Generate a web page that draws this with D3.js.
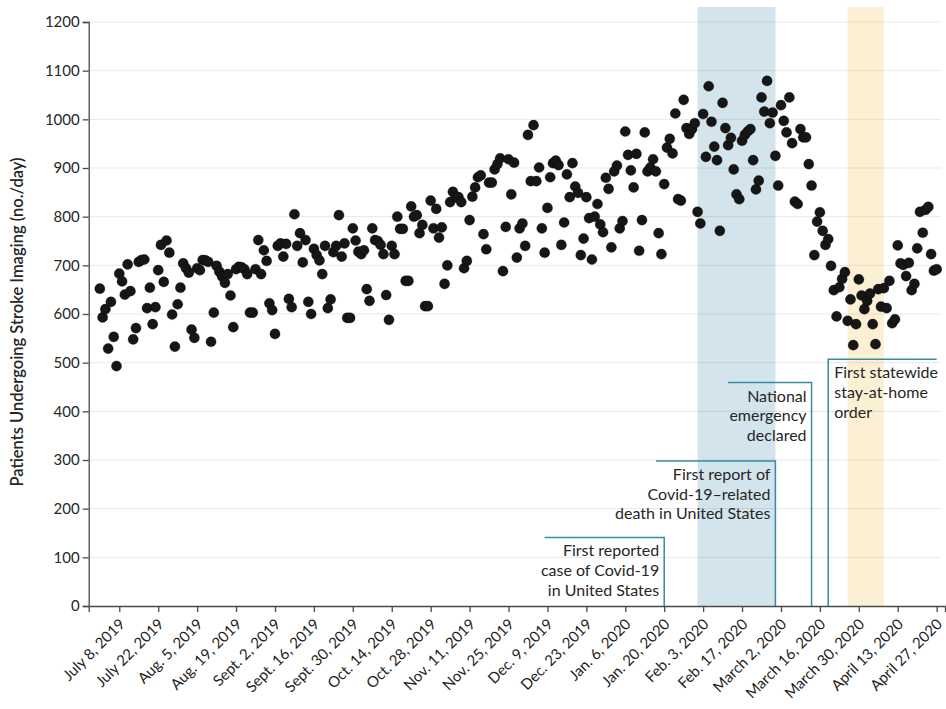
<!DOCTYPE html>
<html><head><meta charset="utf-8">
<script src="https://cdn.jsdelivr.net/npm/d3@7"></script>
<style>
html,body{margin:0;padding:0;background:#fff;}
svg{display:block;font-family:Lato,"Open Sans",sans-serif;}
</style></head><body>
<svg id="chart" width="946" height="709"></svg>
<script>
// ---------- DATA ----------
const startDate = "2019-07-01"; // first daily observation (one value per day)
const values = [
652,593,610,529,625,553,493,
683,667,640,702,647,548,571,
707,711,712,612,654,579,614,
690,742,666,751,726,599,533,
620,654,704,694,685,568,551,
694,690,711,710,707,543,603,
699,687,677,664,682,638,573,
692,697,696,692,682,603,603,
692,752,682,731,709,622,608,
559,740,745,718,744,631,614,
805,740,766,706,752,625,600,
734,721,710,682,740,612,630,
727,740,803,718,745,592,592,
776,751,728,723,731,651,627,
776,752,750,742,723,639,588,
740,723,800,775,775,668,668,
821,800,803,766,783,616,616,
833,776,816,757,778,662,700,
830,851,840,840,830,694,709,
793,841,860,881,885,764,733,
870,870,897,908,920,688,779,
918,846,911,716,776,786,740,
968,873,988,873,901,776,726,
818,881,910,915,906,742,788,
887,840,910,862,849,721,755,
840,797,712,800,826,784,768,
880,857,737,893,905,776,791,
975,927,895,860,929,730,793,
973,893,901,918,893,766,723,
867,942,960,930,1012,836,833,
1040,982,970,980,992,810,786,
1011,923,1068,995,944,916,771,
1034,982,947,962,897,846,836,
956,968,975,980,916,856,874,
1045,1016,1079,992,1014,925,864,
1029,997,973,1045,951,831,826,
980,963,963,908,864,721,790,
809,771,742,754,699,649,595,
655,672,686,586,630,536,579,
671,638,610,627,642,579,538,
651,615,653,612,668,581,589,
741,704,701,678,705,649,662,
735,810,767,814,820,723,689,692
];
const tickDates = ["2019-07-08","2019-07-22","2019-08-05","2019-08-19","2019-09-02","2019-09-16","2019-09-30","2019-10-14","2019-10-28","2019-11-11","2019-11-25","2019-12-09","2019-12-23","2020-01-06","2020-01-20","2020-02-03","2020-02-17","2020-03-02","2020-03-16","2020-03-30","2020-04-13","2020-04-27"];
const tickLabels = ["July 8, 2019","July 22, 2019","Aug. 5, 2019","Aug. 19, 2019","Sept. 2, 2019","Sept. 16, 2019","Sept. 30, 2019","Oct. 14, 2019","Oct. 28, 2019","Nov. 11, 2019","Nov. 25, 2019","Dec. 9, 2019","Dec. 23, 2019","Jan. 6, 2020","Jan. 20, 2020","Feb. 3, 2020","Feb. 17, 2020","March 2, 2020","March 16, 2020","March 30, 2020","April 13, 2020","April 27, 2020"];
const yTicks = [0,100,200,300,400,500,600,700,800,900,1000,1100,1200];
const yTitle = "Patients Undergoing Stroke Imaging (no./day)";
const bandStarts = ["2020-02-01","2020-03-26"];
const bandEnds   = ["2020-02-29","2020-04-08"];
const eventDates  = ["2020-01-20","2020-02-29","2020-03-13","2020-03-19"];
const eventLevels = [141, 298, 459, 507];
const eventLabels = [
  ["First reported","case of Covid-19","in United States"],
  ["First report of","Covid-19\u2013related","death in United States"],
  ["National","emergency","declared"],
  ["First statewide","stay-at-home","order"]
];

// ---------- LAYOUT / STYLE ----------
const W = 946, H = 709;
const plotLeft = 88.7, plotRight = 945, plotTop = 22, plotBottom = 606;
const bandColors = ["#d3e4ec","#fcf0d4"];
const annoColor = "#3a8aa2";
const textColor = "#262626";
const axisColor = "#4a4a4a";
// horizontal leader extents (other end of each bracket)
const eventOtherEnd = ["2019-12-08","2020-01-17","2020-02-12","2020-04-27"];
const eventAlign = ["end","end","end","start"];

const parse = d3.utcParse("%Y-%m-%d");
const svg = d3.select("#chart");

const x = d3.scaleUtc()
  .domain([parse("2019-06-27"), parse("2020-04-30")])
  .range([plotLeft, plotRight]);
const y = d3.scaleLinear().domain([0,1200]).range([plotBottom, plotTop]);

const start = parse(startDate);
const data = values.map((v,i)=>({date:d3.utcDay.offset(start,i), value:v}));

// bands
svg.append("g").selectAll("rect").data(bandStarts).join("rect")
  .attr("x",(d)=>x(parse(d)))
  .attr("width",(d,i)=>x(parse(bandEnds[i]))-x(parse(d)))
  .attr("y",7)
  .attr("height",plotBottom-7)
  .attr("fill",(d,i)=>bandColors[i]);

// gridlines
svg.append("g").selectAll("line").data(yTicks.filter(t=>t>0)).join("line")
  .attr("x1",plotLeft).attr("x2",941)
  .attr("y1",d=>y(d)).attr("y2",d=>y(d))
  .attr("stroke","#000").attr("stroke-opacity",0.09).attr("stroke-width",1);

// annotations
const ann = svg.append("g");
eventDates.forEach((ed,i)=>{
  const xv = x(parse(ed));
  const xo = x(parse(eventOtherEnd[i]));
  const yl = y(eventLevels[i]);
  ann.append("path")
    .attr("d",`M${xv},${plotBottom}V${yl}H${xo}`)
    .attr("fill","none").attr("stroke",annoColor).attr("stroke-width",1.5);
  const tx = eventAlign[i]==="end" ? xv-5 : xv+6;
  const t = ann.append("text")
    .attr("text-anchor",eventAlign[i])
    .attr("font-size",16).attr("fill",textColor);
  eventLabels[i].forEach((ln,j)=>{
    t.append("tspan").attr("x",tx).attr("y",yl+19+j*19.7).text(ln);
  });
});

// y axis
const yAxis = svg.append("g").attr("transform",`translate(${plotLeft},0)`)
  .call(d3.axisLeft(y).tickValues(yTicks).tickSize(6).tickPadding(3).tickFormat(d3.format("d")));
yAxis.select(".domain").attr("stroke",axisColor).attr("stroke-width",1.3);
yAxis.selectAll(".tick line").attr("stroke",axisColor).attr("stroke-width",1.3);
yAxis.selectAll(".tick text").attr("font-size",15).attr("fill",textColor).attr("font-family","Lato,sans-serif");

// x axis
const xAxis = svg.append("g").attr("transform",`translate(0,${plotBottom})`)
  .call(d3.axisBottom(x).tickValues(tickDates.map(parse)).tickSize(6).tickFormat((d,i)=>tickLabels[i]));
xAxis.select(".domain").attr("stroke",axisColor).attr("stroke-width",1.3);
xAxis.selectAll(".tick line").attr("stroke",axisColor).attr("stroke-width",1.3);
xAxis.selectAll(".tick text")
  .attr("font-size",15).attr("fill","#1e1e1e").attr("font-family","Lato,sans-serif")
  .attr("text-anchor","end")
  .attr("dy",0).attr("y",0)
  .attr("transform","translate(6,19) rotate(-45)");

// points
svg.append("g").selectAll("circle").data(data).join("circle")
  .attr("cx",d=>x(d.date)).attr("cy",d=>y(d.value)).attr("r",5.1)
  .attr("fill","#161616").attr("stroke","#000").attr("stroke-opacity",0.5).attr("stroke-width",0.6);

// y title
svg.append("text")
  .attr("transform",`translate(23,${(plotTop+plotBottom)/2+8}) rotate(-90)`)
  .attr("text-anchor","middle").attr("font-size",16.5).attr("font-weight",600)
  .attr("fill",textColor).text(yTitle);
</script>
</body></html>
